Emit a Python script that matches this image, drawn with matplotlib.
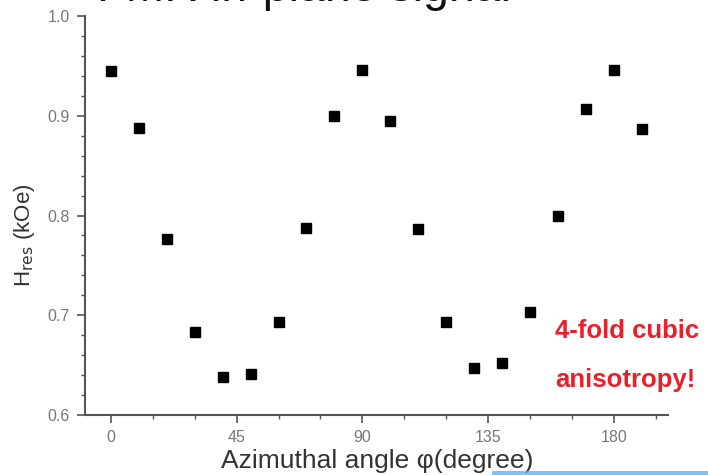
"""FMR in-plane resonance field versus azimuthal angle."""

import matplotlib
matplotlib.use("Agg")
import matplotlib.pyplot as plt
from matplotlib.patches import Rectangle
from matplotlib.ticker import MultipleLocator

plt.rcParams['font.family'] = ['Liberation Sans', 'DejaVu Sans']

angle = [0, 10, 20, 30, 40, 50, 60, 70, 80, 90,
         100, 110, 120, 130, 140, 150, 160, 170, 180, 190]
h_res = [0.945, 0.888, 0.776, 0.683, 0.638, 0.641, 0.693, 0.787, 0.900, 0.946,
         0.895, 0.786, 0.693, 0.647, 0.652, 0.703, 0.800, 0.907, 0.946, 0.887]
x_ticks = [0, 45, 90, 135, 180]
y_ticks = [0.6, 0.7, 0.8, 0.9, 1.0]

fig = plt.figure(figsize=(7.08, 4.75), dpi=100)
ax = fig.add_axes([0.12, 0.1263, 0.8235, 0.84])

ax.plot(angle, h_res, linestyle="none", marker="s", markersize=7.5,
        color="black")

ax.set_xlim(-9.3, 199.4)
ax.set_ylim(0.6, 1.0)
ax.set_xticks(x_ticks)
ax.set_yticks(y_ticks)
ax.set_yticklabels(["%.1f" % v for v in y_ticks])
ax.xaxis.set_minor_locator(MultipleLocator(15))
ax.yaxis.set_minor_locator(MultipleLocator(0.02))

for side in ["top", "right"]:
    ax.spines[side].set_visible(False)
for side in ["left", "bottom"]:
    ax.spines[side].set_color("#555555")
    ax.spines[side].set_linewidth(1.5)

ax.tick_params(which="major", direction="out", length=6, width=1.2,
               color="#555555", labelcolor="#777777", labelsize=11.5, pad=5)
ax.tick_params(which="minor", direction="out", length=3, width=1.0,
               color="#555555")

ax.set_xlabel("Azimuthal angle \u03c6(degree)", fontsize=19, color="#333333")
ax.set_ylabel(r"H$_{\rm res}$ (kOe)", fontsize=16, color="#333333")
ax.xaxis.set_label_coords(0.501, -0.085)
ax.yaxis.set_label_coords(-0.083, 0.45)

# note on the symmetry of the curve
fig.text(0.784, 0.288, "4-fold cubic", color="#e8202a", fontsize=18.5,
         fontweight="bold", ha="left", va="baseline")
fig.text(0.784, 0.185, "anisotropy!", color="#e8202a", fontsize=18.5,
         fontweight="bold", ha="left", va="baseline")

# slide heading, mostly above the visible area
fig.text(0.137, 0.998, "FMR in-plane signal", fontsize=33.5, color="#111111",
         ha="left", va="baseline")

fig.patches.append(Rectangle((0.695, 0.0), 0.305, 0.009,
                             transform=fig.transFigure, color="#6aaee6",
                             alpha=0.8, linewidth=0))

fig.savefig("out.png", dpi=100)
